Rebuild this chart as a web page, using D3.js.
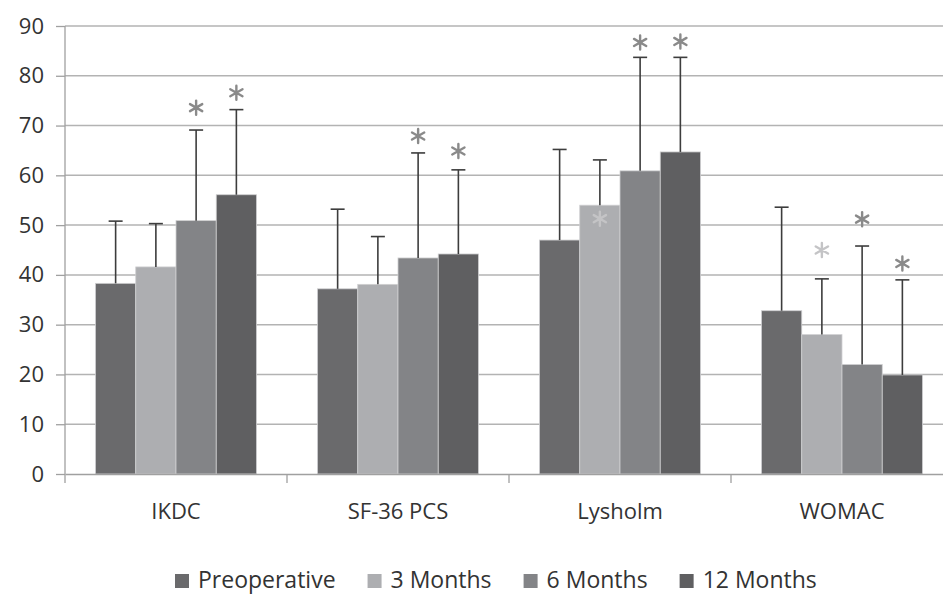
<!DOCTYPE html>
<html>
<head>
<meta charset="utf-8">
<script src="https://cdn.jsdelivr.net/npm/d3@7"></script>
<style>
  body { margin: 0; background: #fff; }
  svg { display: block; font-family: "Open Sans", sans-serif; }
</style>
</head>
<body>
<svg></svg>
<script>
// categories and series
let categories = ["IKDC", "SF-36 PCS", "Lysholm", "WOMAC"]
let seriesNames = ["Preoperative", "3 Months", "6 Months", "12 Months"]
let seriesColors = ["#6a6a6c", "#adaeb1", "#838487", "#5f5f61"]

// mean values per series (one value per category)
let preop = [38.3, 37.2, 47.0, 32.8]
let months3 = [41.6, 38.1, 54.0, 28.0]
let months6 = [50.9, 43.4, 60.9, 22.0]
let months12 = [56.1, 44.2, 64.7, 19.9]

// upper end of the error bars
let preopErr = [50.8, 53.2, 65.2, 53.6]
let months3Err = [50.3, 47.7, 63.1, 39.2]
let months6Err = [69.1, 64.5, 83.7, 45.8]
let months12Err = [73.2, 61.1, 83.7, 39.0]

// significance markers: [category, series index, value where the star sits]
let stars = [
    ["IKDC", 2, 73.6], ["IKDC", 3, 76.6],
    ["SF-36 PCS", 2, 67.9], ["SF-36 PCS", 3, 64.9],
    ["Lysholm", 1, 51.3], ["Lysholm", 2, 86.7], ["Lysholm", 3, 86.9],
    ["WOMAC", 1, 45.0], ["WOMAC", 2, 51.2], ["WOMAC", 3, 42.3]
]
let starColors = ["#8a8a8a", "#c4c4c6", "#8a8a8a", "#8a8a8a"]

let yTicks = [0, 10, 20, 30, 40, 50, 60, 70, 80, 90]

let width = 943
let height = 594
let plotLeft = 65
let plotRight = 953   // plot runs past the picture edge
let plotTop = 26
let plotBottom = 474

let svg = d3.select("svg").attr("width", width).attr("height", height)

let values = [preop, months3, months6, months12]
let errs = [preopErr, months3Err, months6Err, months12Err]

let xScale = d3.scaleBand().domain(categories).range([plotLeft, plotRight])
let inner = d3.scaleBand().domain(d3.range(4)).range([30.5, xScale.bandwidth() - 30.5])
let yScale = d3.scaleLinear().domain([0, 90]).range([plotBottom, plotTop])

// gridlines
svg.append("g")
    .selectAll("line")
    .data(yTicks.filter(d => d > 0))
    .enter()
    .append("line")
    .attr("x1", plotLeft).attr("x2", plotRight)
    .attr("y1", d => yScale(d)).attr("y2", d => yScale(d))
    .attr("stroke", "#b3b3b3")
    .attr("stroke-width", 1.5)

// y axis
let yAxis = d3.axisLeft(yScale).tickValues(yTicks).tickSize(9).tickPadding(12)
let gy = svg.append("g")
    .attr("transform", "translate(" + plotLeft + ",0)")
    .call(yAxis)
gy.selectAll("path, line").attr("stroke", "#a0a0a0").attr("stroke-width", 1.3)
gy.select(".domain").attr("d", "M0," + plotTop + "V" + plotBottom)
gy.selectAll("text").attr("font-size", 22).attr("fill", "#333").attr("font-family", "Open Sans")

// bars
let rows = []
categories.forEach((c, ci) => {
    values.forEach((s, si) => {
        rows.push({cat: c, s: si, v: s[ci], e: errs[si][ci]})
    })
})

svg.append("g")
    .selectAll("rect")
    .data(rows)
    .enter()
    .append("rect")
    .attr("x", d => xScale(d.cat) + inner(d.s))
    .attr("width", inner.bandwidth())
    .attr("y", d => yScale(d.v))
    .attr("height", d => yScale(0) - yScale(d.v))
    .attr("fill", d => seriesColors[d.s])
    .attr("stroke", "#cfcfd1")
    .attr("stroke-width", 0.8)

// error bars
let eg = svg.append("g").attr("stroke", "#3d3d3d").attr("stroke-width", 1.6)
rows.forEach(d => {
    let cx = xScale(d.cat) + inner(d.s) + inner.bandwidth() / 2
    eg.append("line").attr("x1", cx).attr("x2", cx).attr("y1", yScale(d.v)).attr("y2", yScale(d.e))
    eg.append("line").attr("x1", cx - 7).attr("x2", cx + 7).attr("y1", yScale(d.e)).attr("y2", yScale(d.e))
})

// bottom axis
let xAxis = d3.axisBottom(xScale).tickSize(0).tickPadding(29)
let gx = svg.append("g")
    .attr("transform", "translate(0," + plotBottom + ")")
    .call(xAxis)
gx.select(".domain").attr("stroke", "#a0a0a0").attr("stroke-width", 1.3)
gx.selectAll("text").attr("font-size", 22).attr("fill", "#333").attr("font-family", "Open Sans")
gx.selectAll(".sep")
    .data(categories)
    .enter()
    .append("line")
    .attr("class", "sep")
    .attr("x1", d => xScale(d)).attr("x2", d => xScale(d))
    .attr("y1", 0).attr("y2", 9)
    .attr("stroke", "#a0a0a0").attr("stroke-width", 1.3)

// stars
let starPath = d3.symbol().type(d3.symbolAsterisk).size(140)
svg.append("g")
    .selectAll("path")
    .data(stars)
    .enter()
    .append("path")
    .attr("d", starPath)
    .attr("transform", d => "translate(" + (xScale(d[0]) + inner(d[1]) + inner.bandwidth() / 2) + "," + yScale(d[2]) + ")")
    .attr("fill", "none")
    .attr("stroke", d => starColors[d[1]])
    .attr("stroke-width", 2.4)
    .attr("stroke-linecap", "round")

// legend
let legend = svg.append("g").attr("transform", "translate(175,0)")
let lx = 0
seriesNames.forEach((name, i) => {
    let g = legend.append("g").attr("transform", "translate(" + lx + ",0)")
    g.append("rect").attr("x", 0).attr("y", 574).attr("width", 14).attr("height", 14).attr("fill", seriesColors[i])
    let t = g.append("text").attr("x", 23).attr("y", 588)
        .attr("font-size", 23).attr("fill", "#333").text(name)
    lx += 23 + t.node().getComputedTextLength() + 32
})
</script>
</body>
</html>
